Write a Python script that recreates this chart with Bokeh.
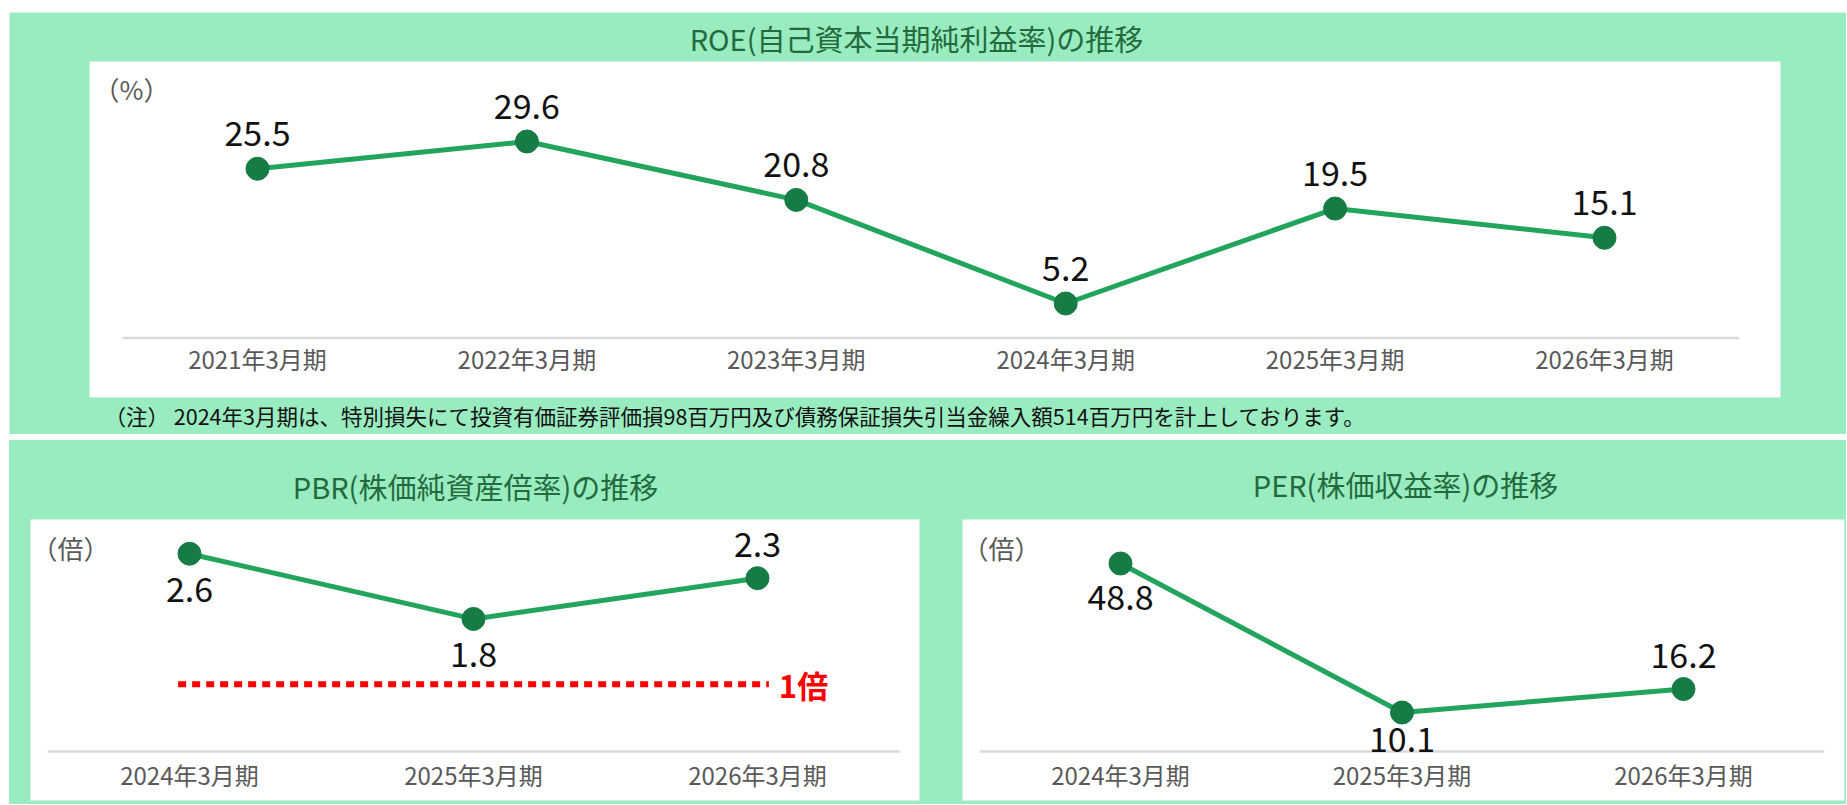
from bokeh.plotting import figure
from bokeh.layouts import column, row
from bokeh.models import Range1d, LinearAxis, FixedTicker, Label, ColumnDataSource
from bokeh.core.properties import value
from bokeh.embed import file_html
from bokeh.resources import INLINE

# ---------------- data ----------------
roe_periods = ["2021年3月期", "2022年3月期", "2023年3月期", "2024年3月期", "2025年3月期", "2026年3月期"]
roe_values = [25.5, 29.6, 20.8, 5.2, 19.5, 15.1]

pbr_periods = ["2024年3月期", "2025年3月期", "2026年3月期"]
pbr_values = [2.6, 1.8, 2.3]
pbr_reference = 1.0
pbr_reference_label = "1倍"

per_periods = ["2024年3月期", "2025年3月期", "2026年3月期"]
per_values = [48.8, 10.1, 16.2]

roe_title = "ROE(自己資本当期純利益率)の推移"
pbr_title = "PBR(株価純資産倍率)の推移"
per_title = "PER(株価収益率)の推移"
roe_unit = "（%）"
ratio_unit = "（倍）"
roe_note = "（注） 2024年3月期は、特別損失にて投資有価証券評価損98百万円及び債務保証損失引当金繰入額514百万円を計上しております。"

# ---------------- style ----------------
FONT = "Noto Sans CJK JP"
GREEN_BG = "#99EBC0"
LINE_C = "#22A45D"
DOT_C = "#167B45"
TITLE_C = "#236B3E"
TICK_C = "#595959"
BASE_C = "#D9D9D9"


def make_chart(W, H, white_box, x_first, x_step, y_anchor, y_k, base,
               periods, values, offsets, title, title_xy, unit, unit_xy, standoff):
    """Frame covers the whole figure; layout given in figure pixels."""
    xs = -x_first / x_step
    xe = xs + W / x_step
    av, apx = y_anchor
    ytop = av + apx / y_k
    ybot = ytop - H / y_k

    def X(px):
        return xs + px / x_step

    def Y(py):
        return ytop - py / y_k

    p = figure(width=W, height=H, x_range=Range1d(xs, xe), y_range=Range1d(ybot, ytop),
               x_axis_location=None, y_axis_location=None, toolbar_location=None,
               output_backend="svg", min_border_left=0, min_border_right=0,
               min_border_top=0, min_border_bottom=0,
               border_fill_color=GREEN_BG, background_fill_color=GREEN_BG,
               outline_line_color=None)
    p.grid.visible = False

    wl, wt, wr, wb = white_box
    p.quad(left=[X(wl)], right=[X(wr)], top=[Y(wt)], bottom=[Y(wb)],
           fill_color="white", line_color=None)

    n = len(periods)
    idx = list(range(n))

    ax = LinearAxis(fixed_location=base, ticker=FixedTicker(ticks=idx),
                    major_label_overrides={i: periods[i] for i in idx},
                    axis_line_color=None, major_tick_line_color=None,
                    minor_tick_line_color=None, major_tick_in=0, major_tick_out=0,
                    major_label_standoff=standoff,
                    major_label_text_font=FONT, major_label_text_font_size="24px",
                    major_label_text_color=TICK_C)
    p.add_layout(ax, "below")

    p.segment(x0=[-0.5], y0=[base], x1=[n - 0.5], y1=[base],
              line_color=BASE_C, line_width=2.5)

    src = ColumnDataSource(dict(x=idx, y=values,
                                t=[f"{v:.1f}" for v in values],
                                off=offsets))
    p.line("x", "y", source=src, line_color=LINE_C, line_width=5)
    p.scatter("x", "y", source=src, size=23, fill_color=DOT_C, line_color=DOT_C)
    p.text("x", "y", text="t", source=src, y_offset="off",
           text_align="center", text_baseline="middle",
           text_font=value(FONT), text_font_size="34px", text_color="#111111")

    p.add_layout(Label(x=title_xy[0], y=H - title_xy[1], x_units="screen", y_units="screen",
                       text=title, text_align="center", text_baseline="middle",
                       text_font=FONT, text_font_size="29px", text_color=TITLE_C))
    p.add_layout(Label(x=unit_xy[0], y=H - unit_xy[1], x_units="screen", y_units="screen",
                       text=unit, text_align="center", text_baseline="middle",
                       text_font=FONT, text_font_size="26px", text_color=TICK_C))
    return p


# ROE (top panel) -- figure at page (9, 12)
H_TOP = 422
p_roe = make_chart(1837, H_TOP, (80, 49, 1771, 385), 248, 269.4, (29.6, 129), 6.639, 0,
                   roe_periods, roe_values, [-35] * 6,
                   roe_title, (907, 25), roe_unit, (122, 76), 3)
p_roe.add_layout(Label(x=95, y=H_TOP - 403, x_units="screen", y_units="screen", text=roe_note,
                       text_align="left", text_baseline="middle",
                       text_font=FONT, text_font_size="21.5px", text_color="#111111"))

# PBR (bottom left) -- figure at page (9, 440)
H_BOT = 364
p_pbr = make_chart(932, H_BOT, (21, 79, 910, 360), 180, 284, (1.925, 168.25), 81.5, 0.1735,
                   pbr_periods, pbr_values, [36, 36, -34],
                   pbr_title, (466, 45), ratio_unit, (61, 107), 6)
p_pbr.line(x=[-0.04, len(pbr_periods) - 1 + 0.04], y=[pbr_reference, pbr_reference],
           line_color="#FF0000", line_width=6, line_dash="8 6")
p_pbr.text(x=[len(pbr_periods) - 1 + 0.04], y=[pbr_reference], text=[pbr_reference_label],
           x_offset=10, text_align="left", text_baseline="middle",
           text_font=value(FONT), text_font_size="31px", text_font_style="bold",
           text_color="#FF0000")

# PER (bottom right) -- figure at page (941, 440)
p_per = make_chart(905, H_BOT, (21, 79, 903, 360), 179, 281.5, (48.8, 123), 3.850, 0,
                   per_periods, per_values, [34, 27, -34],
                   per_title, (464, 43), ratio_unit, (60, 107), 6)

bottom = row(p_pbr, p_per, spacing=0, styles={"background-color": GREEN_BG})
layout = column(p_roe, bottom, spacing=6, margin=(12, 0, 0, 9))

open("out.html", "w").write(file_html(layout, INLINE))
